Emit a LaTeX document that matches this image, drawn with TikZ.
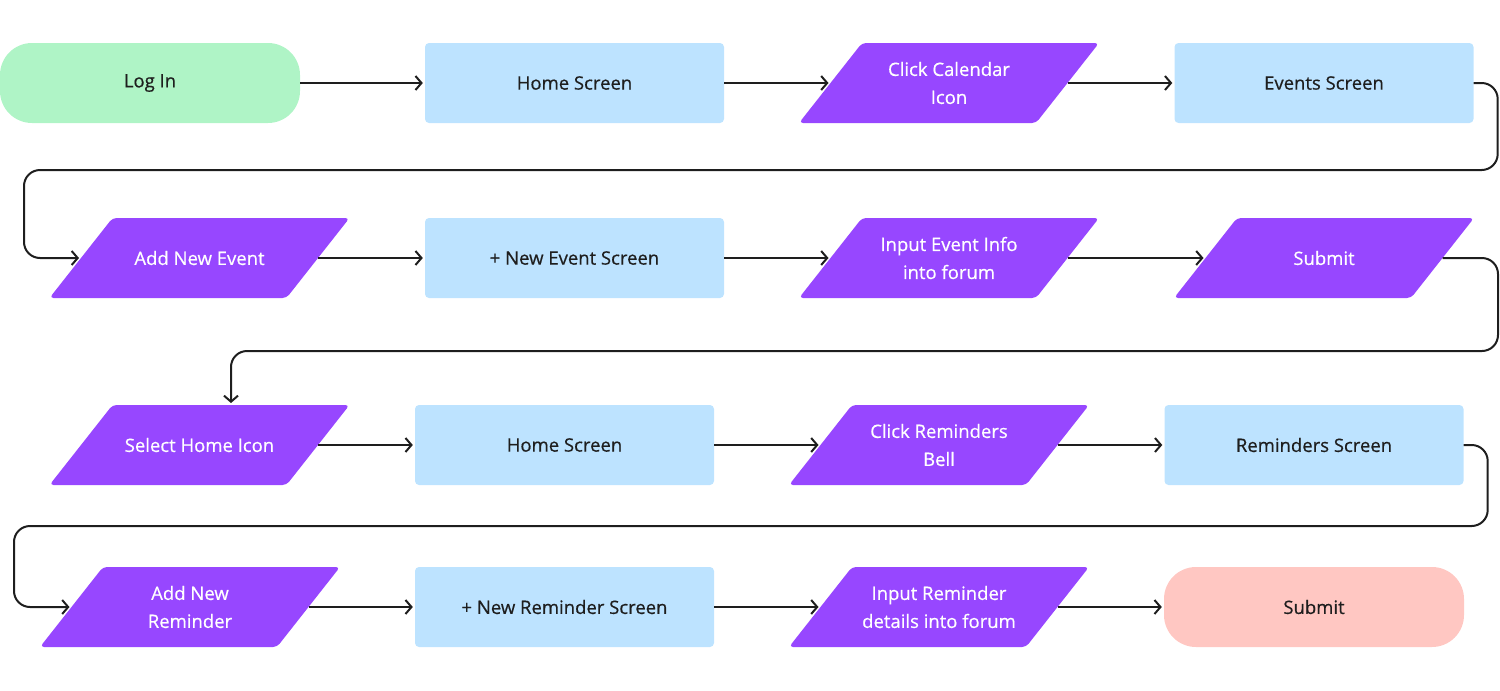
\documentclass[tikz,border=0pt]{standalone}
\usepackage{fontspec}
\setmainfont{Open Sans}[FakeBold=0.5]
\usetikzlibrary{arrows.meta}
\definecolor{cGreen}{HTML}{AFF4C6}
\definecolor{cBlue}{HTML}{BDE3FF}
\definecolor{cPurple}{HTML}{9747FF}
\definecolor{cPink}{HTML}{FFC7C2}
\definecolor{cInk}{HTML}{1E1E1E}
% parallelogram action node: name, x, y, text
\newcommand{\actnode}[4]{%
  \fill[cPurple, rounded corners=4pt] (#2-150,#3+40) -- (#2+87,#3+40) -- (#2+150,#3-40) -- (#2-87,#3-40) -- cycle;
  \node[actiontext] (#1) at (#2,#3) {#4};
  \coordinate (#1-l) at (#2-118.5,#3);
  \coordinate (#1-r) at (#2+118.5,#3);
  \coordinate (#1-t) at (#2+31.5,#3-40);
}
\begin{document}
\begin{tikzpicture}[x=1pt,y=-1pt,
  font=\fontsize{18.5}{28}\selectfont,
  base/.style={minimum height=80pt, inner sep=0pt, align=center},
  screen/.style={base, rectangle, rounded corners=4pt, fill=cBlue, text=cInk, minimum width=299pt},
  actiontext/.style={base, rectangle, minimum width=300pt, text=white},
  terminal/.style={base, rectangle, rounded corners=32pt, minimum width=300pt, text=cInk},
  conn/.style={draw=cInk, line width=2pt, -{Straight Barb[length=6pt,width=14pt]}, shorten >=2pt},
  loop/.style={conn, rounded corners=16pt},
]
\useasboundingbox (0,0) rectangle (1500,691);
% row 1
\node[terminal, fill=cGreen] (login) at (150,83) {Log In};
\node[screen] (home1) at (574.5,83) {Home Screen};
\actnode{click1}{949}{83}{Click Calendar\\Icon}
\node[screen] (events) at (1324,83) {Events Screen};
% row 2
\actnode{addev}{199.5}{258}{Add New Event}
\node[screen] (newev) at (574.5,258) {+ New Event Screen};
\actnode{inputev}{949}{258}{Input Event Info\\into forum}
\actnode{submit1}{1324}{258}{Submit}
% row 3
\actnode{select}{199.5}{445}{Select Home Icon}
\node[screen] (home2) at (564.5,445) {Home Screen};
\actnode{clickrem}{939}{445}{Click Reminders\\Bell}
\node[screen] (remscr) at (1314,445) {Reminders Screen};
% row 4
\actnode{addrem}{190}{607}{Add New\\Reminder}
\node[screen] (newrem) at (564.5,607) {+ New Reminder Screen};
\actnode{inputrem}{939}{607}{Input Reminder\\details into forum}
\node[terminal, fill=cPink] (submit2) at (1314,607) {Submit};
% connectors
\draw[conn] (login) -- (home1);
\draw[conn] (home1) -- (click1-l);
\draw[conn] (click1-r) -- (events);
\draw[loop] (events.east) -- ++(24,0) -- ++(0,87) -| ([xshift=-57pt]addev-l) -- (addev-l);
\draw[conn] (addev-r) -- (newev);
\draw[conn] (newev) -- (inputev-l);
\draw[conn] (inputev-r) -- (submit1-l);
\draw[loop] (submit1-r) -- ++(55.5,0) -- ++(0,93) -| (select-t);
\draw[conn] (select-r) -- (home2);
\draw[conn] (home2) -- (clickrem-l);
\draw[conn] (clickrem-r) -- (remscr);
\draw[loop] (remscr.east) -- ++(24,0) -- ++(0,81) -| ([xshift=-57.5pt]addrem-l) -- (addrem-l);
\draw[conn] (addrem-r) -- (newrem);
\draw[conn] (newrem) -- (inputrem-l);
\draw[conn] (inputrem-r) -- (submit2);
\end{tikzpicture}
\end{document}
